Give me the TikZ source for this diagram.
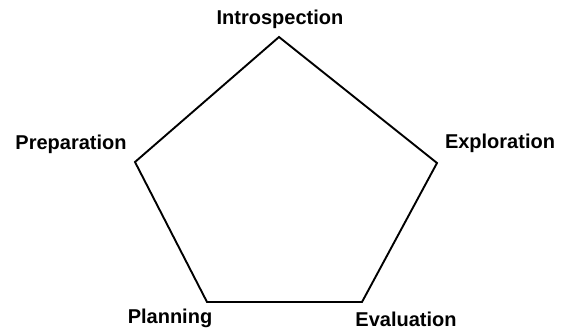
\documentclass[tikz,border=0pt]{standalone}
\usepackage{fontspec}
\setmainfont{Liberation Sans}
\begin{document}
\begin{tikzpicture}[x=1pt,y=-1pt,
  lbl/.style={font=\fontsize{20}{24}\selectfont\bfseries, inner sep=0pt, anchor=center},
  edge/.style={line width=1.9pt, line join=miter}]
\useasboundingbox (0,0) rectangle (561,331);
\coordinate (top) at (279,37);
\coordinate (rt) at (437,163);
\coordinate (br) at (362,302);
\coordinate (bl) at (207,302);
\coordinate (lt) at (135,162);
\draw[edge] (top) -- (rt) -- (br) -- (bl) -- (lt) -- cycle;
\node[lbl] (intro) at (280,19) {Introspection};
\node[lbl] (prep) at (71,144) {Preparation};
\node[lbl] (expl) at (500,143) {Exploration};
\node[lbl] (plan) at (170,318) {Planning};
\node[lbl] (eval) at (406,319.5) {Evaluation};
\end{tikzpicture}
\end{document}
